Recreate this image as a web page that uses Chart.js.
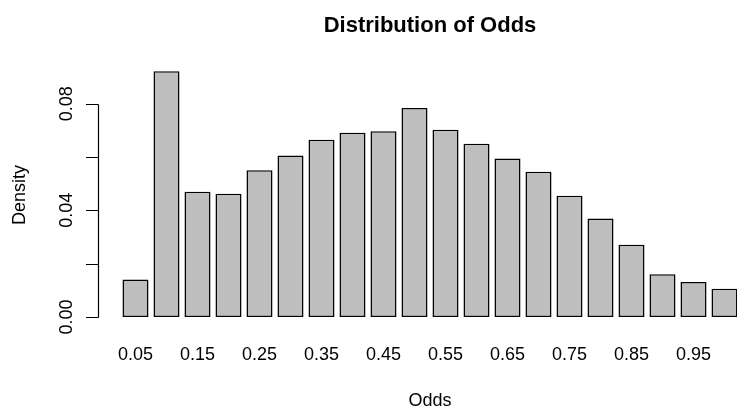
<!DOCTYPE html>
<html>
<head>
<meta charset="utf-8">
<script src="https://cdn.jsdelivr.net/npm/chart.js@4/dist/chart.umd.min.js"></script>
<style>
  html, body { margin: 0; padding: 0; background: #fff; overflow: hidden; width: 737px; height: 409px; }
  #wrap { width: 860px; height: 409px; }
  canvas { display: block; }
</style>
</head>
<body>
<div id="wrap"><canvas id="c" width="860" height="409"></canvas></div>
<script>
// Histogram bins (odds) and their share of observations
const oddsBins = ['0.05','0.10','0.15','0.20','0.25','0.30','0.35','0.40','0.45','0.50',
                  '0.55','0.60','0.65','0.70','0.75','0.80','0.85','0.90','0.95','1.00'];
const density = [0.0141, 0.0922, 0.0470, 0.0462, 0.0550, 0.0606, 0.0665, 0.0691, 0.0697, 0.0784,
                 0.0702, 0.0650, 0.0594, 0.0545, 0.0455, 0.0369, 0.0271, 0.0160, 0.0131, 0.0106];
// Y axis: tick marks and which of them carry a label
const yTicks = [0, 0.02, 0.04, 0.06, 0.08];
const yTickLabels = ['0.00', '0.04', '0.08'];
const yLabelledTicks = [0, 0.04, 0.08];

const FONT = '"Liberation Sans", Arial, Helvetica, sans-serif';
Chart.defaults.font.family = FONT;
Chart.defaults.color = '#000';

// Base-graphics style y axis: line spanning the tick range, outward ticks, rotated labels
const rAxisY = {
  id: 'rAxisY',
  afterDraw(chart) {
    const ctx = chart.ctx;
    const y = chart.scales.y;
    const axisX = 98.5;
    const tickLen = 12.5;
    ctx.save();
    ctx.strokeStyle = '#000';
    ctx.lineWidth = 1.2;
    ctx.beginPath();
    const y0 = Math.round(y.getPixelForValue(yTicks[0])) + 0.5;
    const y1 = Math.round(y.getPixelForValue(yTicks[yTicks.length - 1])) + 0.5;
    ctx.moveTo(axisX, y0);
    ctx.lineTo(axisX, y1);
    yTicks.forEach(v => {
      const py = Math.round(y.getPixelForValue(v)) + 0.5;
      ctx.moveTo(axisX, py);
      ctx.lineTo(axisX - tickLen, py);
    });
    ctx.stroke();

    ctx.fillStyle = '#000';
    ctx.font = '18px ' + FONT;
    ctx.textAlign = 'center';
    ctx.textBaseline = 'alphabetic';
    yLabelledTicks.forEach((v, i) => {
      const py = y.getPixelForValue(v);
      ctx.save();
      ctx.translate(72, py);
      ctx.rotate(-Math.PI / 2);
      ctx.fillText(yTickLabels[i], 0, 0);
      ctx.restore();
    });

    ctx.save();
    ctx.translate(25, 195);
    ctx.rotate(-Math.PI / 2);
    ctx.fillText('Density', 0, 0);
    ctx.restore();
    ctx.restore();
  }
};

new Chart(document.getElementById('c'), {
  type: 'bar',
  data: {
    labels: oddsBins,
    datasets: [{
      data: density,
      backgroundColor: '#BEBEBE',
      borderColor: '#000',
      borderWidth: 1.5,
      borderSkipped: false,
      categoryPercentage: 1,
      barPercentage: 0.84
    }]
  },
  options: {
    responsive: false,
    animation: false,
    devicePixelRatio: 1,
    layout: { padding: { left: 120, right: 120, top: 0, bottom: 0 } },
    plugins: {
      legend: { display: false },
      tooltip: { enabled: false },
      title: {
        display: true,
        text: 'Distribution of Odds',
        color: '#000',
        font: { size: 22, weight: 'bold', family: FONT },
        padding: { top: 12.6, bottom: 22 }
      }
    },
    scales: {
      x: {
        type: 'category',
        offset: true,
        grid: { display: false, drawTicks: false },
        border: { display: false },
        ticks: {
          autoSkip: false,
          maxRotation: 0,
          minRotation: 0,
          padding: 27.7,
          font: { size: 18, family: FONT },
          callback: (val, i) => (i % 2 === 0 ? oddsBins[i] : '')
        },
        title: {
          display: true,
          text: 'Odds',
          font: { size: 18, family: FONT, lineHeight: '14px' },
          padding: { top: 0, bottom: 1 }
        }
      },
      y: {
        display: false,
        min: 0,
        max: 0.096
      }
    }
  },
  plugins: [rAxisY]
});
</script>
</body>
</html>
